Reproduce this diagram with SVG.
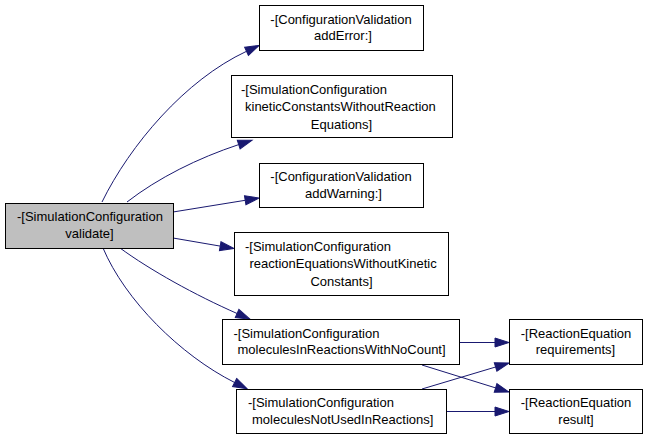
<svg xmlns="http://www.w3.org/2000/svg" width="648" height="440" viewBox="0 0 648 440">
<style>
  .n { fill: #ffffff; stroke: #000000; stroke-width: 1; }
  .root { fill: #bfbfbf; stroke: #000000; stroke-width: 1; }
  text { font-family: "Liberation Sans", Arial, Helvetica, sans-serif; font-size: 13px; fill: #000000; }
  .m { text-anchor: middle; }
  .e { fill: none; stroke: #191970; stroke-width: 1; marker-end: url(#arr); }
</style>
<defs>
  <marker id="arr" markerWidth="14" markerHeight="9" refX="0" refY="4.5" orient="auto" markerUnits="userSpaceOnUse" overflow="visible">
    <path d="M0,0 L14,4.5 L0,9 z" fill="#191970" stroke="#191970" stroke-width="1"/>
  </marker>
</defs>
<rect width="648" height="440" fill="#ffffff"/>
<g id="edges">
  <path class="e" d="M102,202 C130,145 185,80 246.5,51.3"/>
  <path class="e" d="M127,202 C158,178 198,158 238.7,144.6"/>
  <path class="e" d="M173,212 L245.2,200.3"/>
  <path class="e" d="M173,238 L220.2,246.1"/>
  <path class="e" d="M120,248 C150,270 195,295 237.1,313.5"/>
  <path class="e" d="M103,248 C125,300 180,355 234.6,382.5"/>
  <path class="e" d="M460,342.5 L495,342.5"/>
  <path class="e" d="M422,365 L495.6,387.9"/>
  <path class="e" d="M422,389 L495.6,367"/>
  <path class="e" d="M447,411.5 L495,411.5"/>
</g>
<g id="root">
  <rect class="root" x="5.5" y="203.5" width="168" height="45"/>
  <text x="17" y="221">-[SimulationConfiguration</text>
  <text class="m" x="89.5" y="237.5">validate]</text>
</g>
<g id="addError">
  <rect class="n" x="259.5" y="5.5" width="164" height="45"/>
  <text class="m" x="341" y="23.5">-[ConfigurationValidation</text>
  <text class="m" x="343" y="40">addError:]</text>
</g>
<g id="kinetic">
  <rect class="n" x="231.5" y="75.5" width="221" height="62"/>
  <text x="241" y="93.5">-[SimulationConfiguration</text>
  <text x="245" y="111">kineticConstantsWithoutReaction</text>
  <text class="m" x="341.5" y="128.5">Equations]</text>
</g>
<g id="addWarning">
  <rect class="n" x="259.5" y="163.5" width="164" height="44"/>
  <text class="m" x="341" y="181">-[ConfigurationValidation</text>
  <text class="m" x="343.5" y="197.5">addWarning:]</text>
</g>
<g id="reaction">
  <rect class="n" x="234.5" y="232.5" width="214" height="63"/>
  <text x="245" y="250.5">-[SimulationConfiguration</text>
  <text x="249.5" y="268">reactionEquationsWithoutKinetic</text>
  <text class="m" x="341.5" y="285.5">Constants]</text>
</g>
<g id="moleculesIn">
  <rect class="n" x="222.5" y="319.5" width="237" height="45"/>
  <text x="233.5" y="337.5">-[SimulationConfiguration</text>
  <text x="237.5" y="354">moleculesInReactionsWithNoCount]</text>
</g>
<g id="moleculesNot">
  <rect class="n" x="236.5" y="389.5" width="210" height="44"/>
  <text x="248" y="407">-[SimulationConfiguration</text>
  <text x="252" y="423.5">moleculesNotUsedInReactions]</text>
</g>
<g id="requirements">
  <rect class="n" x="509.5" y="319.5" width="133" height="45"/>
  <text class="m" x="576" y="337.5">-[ReactionEquation</text>
  <text class="m" x="575.5" y="354">requirements]</text>
</g>
<g id="result">
  <rect class="n" x="509.5" y="389.5" width="133" height="44"/>
  <text class="m" x="576" y="407">-[ReactionEquation</text>
  <text class="m" x="576" y="423.5">result]</text>
</g>
</svg>
